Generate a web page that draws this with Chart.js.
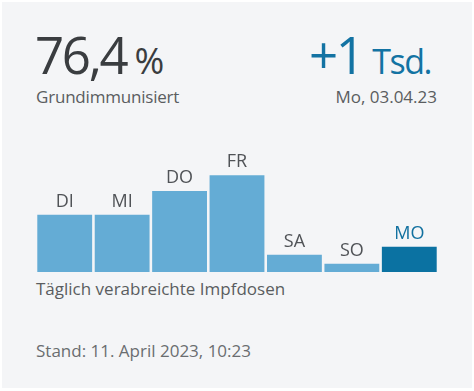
<!DOCTYPE html>
<html>
<head>
<meta charset="utf-8">
<script src="https://cdn.jsdelivr.net/npm/chart.js@4.4.0/dist/chart.umd.min.js"></script>
<style>
  html, body { margin: 0; padding: 0; background: #fff; }
  body { width: 474px; height: 391px; position: relative; overflow: hidden; font-family: "Open Sans", sans-serif; }
  .card { position: absolute; left: 2px; top: 2px; width: 470px; height: 386px; background: #f4f5f7; }
  .t { position: absolute; white-space: nowrap; }
  #quote { left: 35px; top: 24px; color: #3a3d40; font-size: 51px; line-height: 60px; letter-spacing: -2.3px; }
  #quote small { font-size: 36px; margin-left: 8px; letter-spacing: 0; }
  #quoteLbl { left: 36px; top: 85px; color: #5a5d60; font-size: 17px; letter-spacing: -0.2px; }
  #delta { right: 43px; top: 24px; color: #1373a3; font-size: 51px; line-height: 60px; letter-spacing: -2.5px; }
  #delta small { font-size: 34px; margin-left: 10px; letter-spacing: -1.5px; }
  #deltaLbl { right: 37px; top: 85px; color: #5a5d60; font-size: 17px; }
  #sub { left: 36px; top: 277px; color: #5a5d60; font-size: 17px; }
  #stand { left: 36px; top: 339px; color: #6a6d70; font-size: 17px; }
  #wrap { position: absolute; left: 36px; top: 150px; width: 402px; height: 122px; }
</style>
</head>
<body>
<div class="card"></div>
<div class="t" id="quote">76,4<small>%</small></div>
<div class="t" id="quoteLbl">Grundimmunisiert</div>
<div class="t" id="delta">+1<small>Tsd.</small></div>
<div class="t" id="deltaLbl">Mo, 03.04.23</div>
<div id="wrap"><canvas id="doses"></canvas></div>
<div class="t" id="sub">Täglich verabreichte Impfdosen</div>
<div class="t" id="stand">Stand: 11. April 2023, 10:23</div>
<script>
// daily doses, last 7 days (MO = +1 Tsd.)
const days = ['DI', 'MI', 'DO', 'FR', 'SA', 'SO', 'MO'];
const doses = [2265, 2265, 3200, 3820, 685, 330, 1000];

const lightBlue = '#64acd5';
const darkBlue = '#0b72a2';
const barColors = days.map((d, i) => i === days.length - 1 ? darkBlue : lightBlue);
const labelColors = days.map((d, i) => i === days.length - 1 ? '#11709f' : '#505357');

// day labels above every bar
const dayLabels = {
  id: 'dayLabels',
  afterDatasetsDraw(chart) {
    const ctx = chart.ctx;
    const meta = chart.getDatasetMeta(0);
    ctx.save();
    ctx.font = '18px "Open Sans", sans-serif';
    ctx.textAlign = 'center';
    ctx.textBaseline = 'alphabetic';
    meta.data.forEach((bar, i) => {
      ctx.fillStyle = labelColors[i];
      ctx.fillText(days[i], bar.x, bar.y - 8);
    });
    ctx.restore();
  }
};

const ctx = document.getElementById('doses').getContext('2d');
const chart = new Chart(ctx, {
  type: 'bar',
  data: {
    labels: days,
    datasets: [{
      data: doses,
      backgroundColor: barColors,
      borderWidth: 0,
      barPercentage: 0.955,
      categoryPercentage: 1
    }]
  },
  options: {
    responsive: true,
    maintainAspectRatio: false,
    animation: false,
    layout: { padding: 0 },
    scales: {
      x: { display: false },
      y: { display: false, min: 0, max: 4820 }
    },
    plugins: {
      legend: { display: false },
      tooltip: { enabled: false }
    }
  },
  plugins: [dayLabels]
});
</script>
</body>
</html>
